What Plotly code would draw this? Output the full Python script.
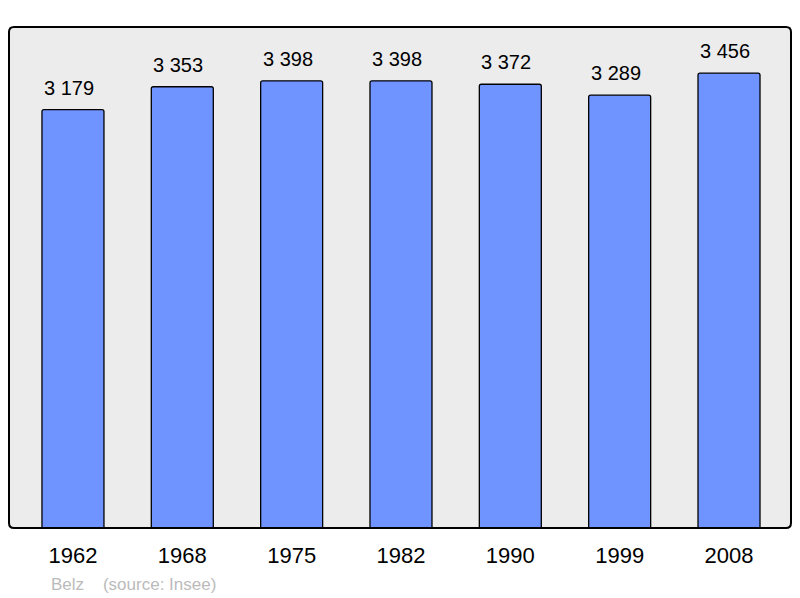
import plotly.graph_objects as go

years = ["1962", "1968", "1975", "1982", "1990", "1999", "2008"]
population = [3179, 3353, 3398, 3398, 3372, 3289, 3456]
footer_text = "Belz    (source: Insee)"

W, H = 800, 598
L, R, T, B = 9, 9, 27, 70
pw, ph = W - L - R, H - T - B

xs = list(range(len(years)))
labels = [f"{v:,}".replace(",", " ") for v in population]

fig = go.Figure()
fig.add_trace(go.Bar(
    x=xs, y=population, width=0.567,
    marker=dict(color="#7094ff", line=dict(color="#000000", width=1.3), cornerradius=2),
    hoverinfo="skip",
))

for x, v, t in zip(xs, population, labels):
    fig.add_annotation(x=x, y=v, text=t, showarrow=False, yanchor="bottom", yshift=9,
                       xshift=-4,
                       font=dict(family="Liberation Sans, Arial", size=20, color="#000"))

fig.add_annotation(xref="paper", yref="paper", x=(49 - L) / pw, y=-(584 - T - ph) / ph,
                   xanchor="left", yanchor="middle", text=footer_text, showarrow=False,
                   font=dict(family="Liberation Sans, Arial", size=17, color="#bbbbbb"))

# rounded border
r = 5
rx, ry = r / pw, r / ph
path = (f"M {rx},0 L {1-rx},0 Q 1,0 1,{ry} L 1,{1-ry} Q 1,1 {1-rx},1 "
        f"L {rx},1 Q 0,1 0,{1-ry} L 0,{ry} Q 0,0 {rx},0 Z")
fig.add_shape(type="path", xref="paper", yref="paper", path=path,
              line=dict(color="#000", width=2), layer="above")

fig.update_layout(
    width=W, height=H, margin=dict(l=L, r=R, t=T, b=B),
    paper_bgcolor="#ffffff", plot_bgcolor="#ececec", showlegend=False,
    xaxis=dict(range=[-0.585, 6.567], tickmode="array", tickvals=xs, ticktext=years,
               showgrid=False, zeroline=False, ticks="outside", ticklen=8,
               tickcolor="rgba(0,0,0,0)",
               tickfont=dict(family="Liberation Sans, Arial", size=22, color="#000")),
    yaxis=dict(range=[0, 3807], showgrid=False, zeroline=False, showticklabels=False),
)
fig.write_html("out.html", config={"displayModeBar": False},
               post_script="document.body.style.margin='0';")
